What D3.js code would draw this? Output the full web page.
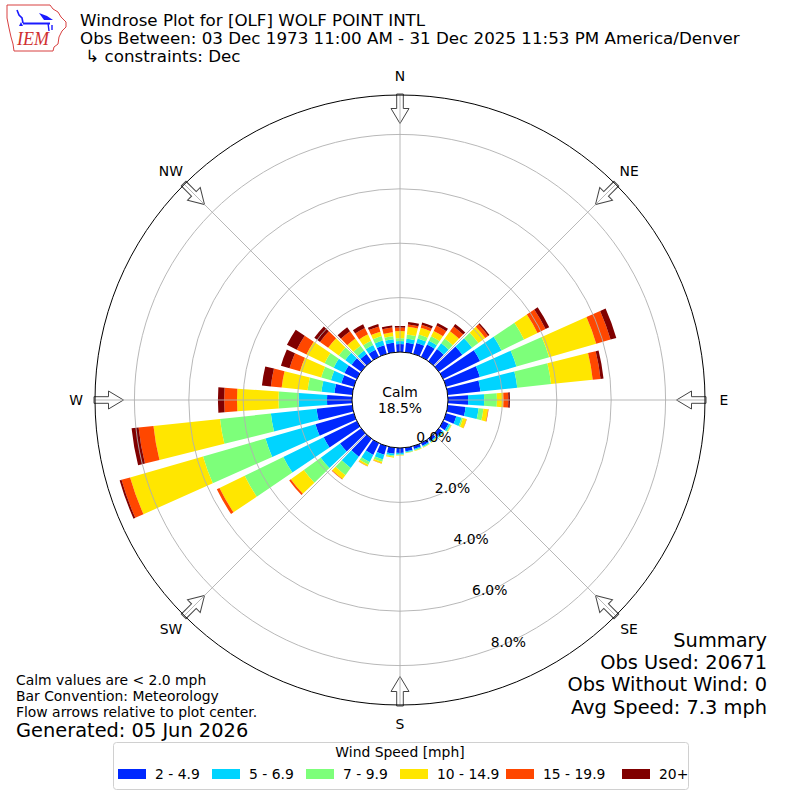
<!DOCTYPE html>
<html><head><meta charset="utf-8">
<script src="https://cdn.jsdelivr.net/npm/d3@7"></script>
<style>
body{margin:0;background:#fff}
svg{display:block}
text{font-family:"DejaVu Sans",sans-serif;fill:#000}
</style>
</head><body>
<svg id="c" width="800" height="800"></svg>
<script>
// ---------------- data ----------------
const directions = [0,10,20,30,40,50,60,70,80,90,100,110,120,130,140,150,160,170,
                    180,190,200,210,220,230,240,250,260,270,280,290,300,310,320,330,340,350];
const speedBins = ["2 - 4.9","5 - 6.9","7 - 9.9","10 - 14.9","15 - 19.9","20+"];
// percent of observations per direction, per speed bin
const spd2to5   = [0.29,0.35,0.42,0.51,0.55,1.07,1.51,1.29,1.21,0.74,0.66,0.39,0.22,0.15,0.11,0.11,0.11,0.13,
                   0.18,0.22,0.33,0.48,0.81,0.96,1.36,1.47,1.32,0.92,0.66,0.48,0.51,0.44,0.33,0.29,0.33,0.35];
const spd5to7   = [0.11,0.15,0.17,0.15,0.26,0.44,0.88,1.40,1.36,0.59,0.48,0.20,0.07,0.06,0.04,0.04,0.04,0.04,
                   0.06,0.07,0.18,0.29,0.51,0.88,1.65,1.91,1.69,1.04,0.48,0.40,0.44,0.29,0.15,0.20,0.18,0.13];
const spd7to10  = [0.11,0.16,0.15,0.18,0.22,0.29,0.92,1.25,1.25,0.47,0.18,0.06,0.04,0.02,0.02,0.02,0.02,0.02,
                   0.02,0.04,0.09,0.11,0.33,0.77,1.58,2.39,1.88,0.74,0.51,0.37,0.37,0.29,0.22,0.17,0.17,0.11];
const spd10to15 = [0.26,0.28,0.26,0.22,0.33,0.31,0.55,1.80,1.54,0.24,0.17,0.13,0.02,0.02,0.02,0.02,0.02,0.01,
                   0.02,0.04,0.06,0.07,0.18,0.59,1.03,2.79,2.46,1.53,0.96,0.81,0.74,0.48,0.33,0.26,0.17,0.15];
const spd15to20 = [0.13,0.09,0.11,0.22,0.22,0.13,0.33,0.55,0.29,0.18,0.02,0.01,0.00,0.00,0.00,0.00,0.00,0.00,
                   0.00,0.00,0.01,0.01,0.02,0.07,0.11,0.33,0.55,0.47,0.40,0.40,0.40,0.37,0.33,0.26,0.20,0.18];
const spd20plus = [0.06,0.09,0.09,0.11,0.11,0.06,0.15,0.22,0.11,0.06,0.00,0.00,0.00,0.00,0.00,0.00,0.00,0.00,
                   0.00,0.00,0.00,0.00,0.00,0.00,0.00,0.07,0.26,0.23,0.33,0.33,0.40,0.26,0.18,0.15,0.09,0.07];
const radialTicks = [0,2,4,6,8];
const compassLabels = ["N","NE","E","SE","S","SW","W","NW"];
const compassAngles = [0,45,90,135,180,225,270,315];
const calmPct = "18.5%";
const titleLines = ["Windrose Plot for [OLF] WOLF POINT INTL",
  "Obs Between: 03 Dec 1973 11:00 AM - 31 Dec 2025 11:53 PM America/Denver",
  " \u21B3 constraints: Dec"];
const noteLines = ["Calm values are < 2.0 mph","Bar Convention: Meteorology","Flow arrows relative to plot center."];
const generated = "Generated: 05 Jun 2026";
const summaryLines = ["Summary","Obs Used: 20671","Obs Without Wind: 0","Avg Speed: 7.3 mph"];

// ---------------- setup ----------------
const series = [spd2to5, spd5to7, spd7to10, spd10to15, spd15to20, spd20plus];
const colors = ["#0028ff","#00d4ff","#7dff7a","#ffe600","#ff4700","#800000"];
const table = directions.map((d,i)=>{const o={dir:d}; speedBins.forEach((k,j)=>o[k]=series[j][i]); return o;});
const stacked = d3.stack().keys(speedBins)(table);

const svg = d3.select("#c");
const cx = 400, cy = 400;
const rMax = 9.45;
const rScale = d3.scaleLinear().domain([0, rMax]).range([48, 305]);
const aScale = d3.scaleLinear().domain([0, 360]).range([0, 2*Math.PI]);
const halfWidth = 4; // degrees each side
const g = svg.append("g").attr("transform", `translate(${cx},${cy})`);
const arc = d3.arc();
const toXY = (deg, r) => [r*Math.sin(aScale(deg)), -r*Math.cos(aScale(deg))];

// bars
stacked.forEach((layer,j)=>{
  g.append("g").selectAll("path")
    .data(layer.filter(d=>d[1]-d[0] > 0))
    .join("path")
    .attr("d", d=>arc({innerRadius:rScale(d[0]), outerRadius:rScale(d[1]),
                       startAngle:aScale(d.data.dir-halfWidth), endAngle:aScale(d.data.dir+halfWidth)}))
    .attr("fill", colors[j]);
});

// flow arrows (pointing inward), drawn beneath grid and spine
const R = rScale(rMax);
const arrowPts = [[-3.3,-R-1],[3.3,-R-1],[3.3,-R+13.5],[9,-R+13.5],[0,-R+28.5],[-9,-R+13.5],[-3.3,-R+13.5]];
g.selectAll("path.arrow").data(compassAngles).join("path").attr("class","arrow")
  .attr("d", d3.line()(arrowPts)+"Z")
  .attr("transform", d=>`rotate(${d})`)
  .attr("fill","#fff").attr("stroke","#444").attr("stroke-width",1);

// grid (drawn above bars)
const grid = g.append("g").attr("fill","none").attr("stroke","#b0b0b0").attr("stroke-width",0.9);
grid.selectAll("circle").data(radialTicks.filter(t=>t>0)).join("circle").attr("r", d=>rScale(d));
grid.selectAll("line").data(compassAngles).join("line")
  .attr("x1", d=>toXY(d, rScale(0))[0]).attr("y1", d=>toXY(d, rScale(0))[1])
  .attr("x2", d=>toXY(d, rScale(rMax))[0]).attr("y2", d=>toXY(d, rScale(rMax))[1]);

// outer spine
g.append("circle").attr("r", rScale(rMax)).attr("fill","none").attr("stroke","#000").attr("stroke-width",1);

// calm circle
g.append("circle").attr("r", rScale(0)).attr("fill","#fff").attr("stroke","#000").attr("stroke-width",1);
g.append("text").attr("y",-8).attr("text-anchor","middle").attr("dominant-baseline","central")
  .style("font-size","13.9px").text("Calm");
g.append("text").attr("y",8).attr("text-anchor","middle").attr("dominant-baseline","central")
  .style("font-size","13.9px").text(calmPct);

// radial labels
g.selectAll("text.rl").data(radialTicks).join("text").attr("class","rl")
  .attr("x", d=>toXY(160, rScale(d))[0]+17.5)
  .attr("y", d=>toXY(160, rScale(d))[1]-8)
  .attr("text-anchor","middle").attr("dominant-baseline","central")
  .style("font-size","13.9px").text(d=>d3.format(".1f")(d)+"%");

// compass labels
g.selectAll("text.cl").data(compassAngles).join("text").attr("class","cl")
  .attr("x", d=>toXY(d, rScale(rMax)+19)[0])
  .attr("y", d=>toXY(d, rScale(rMax)+19)[1])
  .attr("text-anchor","middle").attr("dominant-baseline","central")
  .style("font-size","13.9px").text((d,i)=>compassLabels[i]);

// title
svg.append("g").selectAll("text").data(titleLines).join("text")
  .attr("x",80).attr("y",(d,i)=>26+i*18)
  .style("font-size","16.7px").attr("xml:space","preserve").text(d=>d);

// notes
svg.append("g").selectAll("text").data(noteLines).join("text")
  .attr("x",16).attr("y",(d,i)=>685+i*16)
  .style("font-size","13.9px").text(d=>d);
svg.append("text").attr("x",16).attr("y",737).style("font-size","19.4px").text(generated);

// summary
svg.append("g").selectAll("text").data(summaryLines).join("text")
  .attr("x",767).attr("y",(d,i)=>647+i*22.2).attr("text-anchor","end")
  .style("font-size","19.4px").text(d=>d);

// legend
const lg = svg.append("g");
lg.append("rect").attr("x",113.5).attr("y",742.5).attr("width",575).attr("height",47)
  .attr("rx",3).attr("fill","#fff").attr("stroke","#d0d0d0");
lg.append("text").attr("x",400).attr("y",752).attr("text-anchor","middle").attr("dominant-baseline","central")
  .style("font-size","13.9px").text("Wind Speed [mph]");
const legX = [118,212,306,400,506,622];
speedBins.forEach((b,i)=>{
  lg.append("rect").attr("x",legX[i]).attr("y",769).attr("width",28).attr("height",10).attr("fill",colors[i]);
  lg.append("text").attr("x",legX[i]+37).attr("y",774).attr("dominant-baseline","central")
    .style("font-size","13.9px").text(b);
});

// IEM logo
const logo = svg.append("g");
logo.append("path")
  .attr("d","M7,5 L50,5 L53,9 L58,12 L61,17 L66,22 L66,27 L62,31 L59,37 L58,44 L54,47 L53,51 L14,51 L13,44 L11,37 L9,28 L7,18 Z")
  .attr("fill","#fff").attr("stroke","#d84040").attr("stroke-width",1);
logo.append("line").attr("x1",23).attr("y1",23.5).attr("x2",50).attr("y2",23.5).attr("stroke","#1a1aff").attr("stroke-width",2);
logo.append("path").attr("d","M17,10 L19,15 L22,18 L23,23").attr("fill","none").attr("stroke","#1a1aff").attr("stroke-width",1.6);
logo.append("path").attr("d","M19,26 L21,22 L23,26 Z").attr("fill","#1a1aff");
logo.append("path").attr("d","M39,13 L47,16 L53,20 L44,20 Z").attr("fill","#1a1aff");
logo.append("path").attr("d","M48,23 L49,31 M52,25 L52,30").attr("stroke","#1a1aff").attr("stroke-width",1.4);
logo.append("text").attr("x",17).attr("y",45).style("font-family","'Liberation Serif',serif")
  .style("font-style","italic").style("font-size","18px").style("fill","#d03030").text("IEM");
</script>
</body></html>
